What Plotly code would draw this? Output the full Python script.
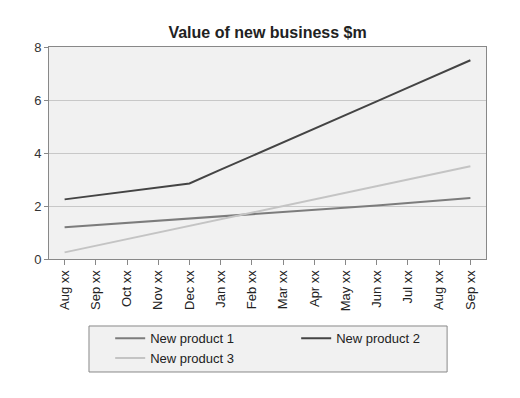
import plotly.graph_objects as go

months = ["Aug xx", "Sep xx", "Oct xx", "Nov xx", "Dec xx", "Jan xx", "Feb xx",
          "Mar xx", "Apr xx", "May xx", "Jun xx", "Jul xx", "Aug xx", "Sep xx"]
cats = list(range(len(months)))
product1 = [1.2, 1.28, 1.36, 1.44, 1.52, 1.6, 1.68, 1.76, 1.84, 1.93, 2.02, 2.11, 2.2, 2.3]
product2 = [2.25, 2.4, 2.55, 2.7, 2.85, 3.37, 3.88, 4.4, 4.92, 5.43, 5.95, 6.47, 6.98, 7.5]
product3 = [0.25, 0.5, 0.75, 1.0, 1.25, 1.5, 1.75, 2.0, 2.25, 2.5, 2.75, 3.0, 3.25, 3.5]

names = ["New product 1", "New product 2", "New product 3"]
colors = ["#7c7c7c", "#444444", "#c4c4c4"]
series = [product1, product2, product3]

fig = go.Figure()
for n, c, s in zip(names, colors, series):
    fig.add_trace(go.Scatter(x=cats, y=s, mode="lines", name=n,
                             line=dict(color=c, width=2)))

font = "Liberation Sans, Arial, sans-serif"
fig.update_layout(
    width=504, height=382,
    margin=dict(l=41, r=26, t=39, b=131),
    paper_bgcolor="white",
    plot_bgcolor="#f1f1f1",
    font=dict(family=font, color="#333333", size=11),
    title=dict(text="<b>Value of new business $m</b>", x=0.515, xanchor="center",
               y=0.935, yanchor="middle", font=dict(size=16, color="#222222")),
    showlegend=True,
    legend=dict(orientation="h", x=0.14, xanchor="left", y=-0.303, yanchor="top",
                bgcolor="rgba(0,0,0,0)", borderwidth=0,
                entrywidth=141, font=dict(size=13, color="#222222"),
                tracegroupgap=0),
    shapes=[dict(type="rect", xref="paper", yref="paper",
                 x0=0.0915, x1=0.911, y0=-0.533, y1=-0.316,
                 fillcolor="#f1f1f1", line=dict(color="#888888", width=1),
                 layer="below")],
)
fig.update_xaxes(
    tickmode="array", tickvals=cats, ticktext=months, tickangle=-90,
    range=[-0.5, len(months) - 0.5], zeroline=False,
    showgrid=False, showline=True, linecolor="#888888", linewidth=1, mirror=True,
    ticks="outside", tickson="boundaries", ticklen=5, tickcolor="#888888",
    tickfont=dict(size=13, color="#222222"),
)
fig.update_yaxes(
    range=[0, 8], dtick=2, showgrid=True, gridcolor="#c8c8c8", gridwidth=1,
    showline=True, linecolor="#888888", linewidth=1, mirror=True,
    ticks="outside", ticklen=4, tickcolor="#888888", zeroline=False,
    tickfont=dict(size=13, color="#333333"),
)
fig.write_html("out.html")
